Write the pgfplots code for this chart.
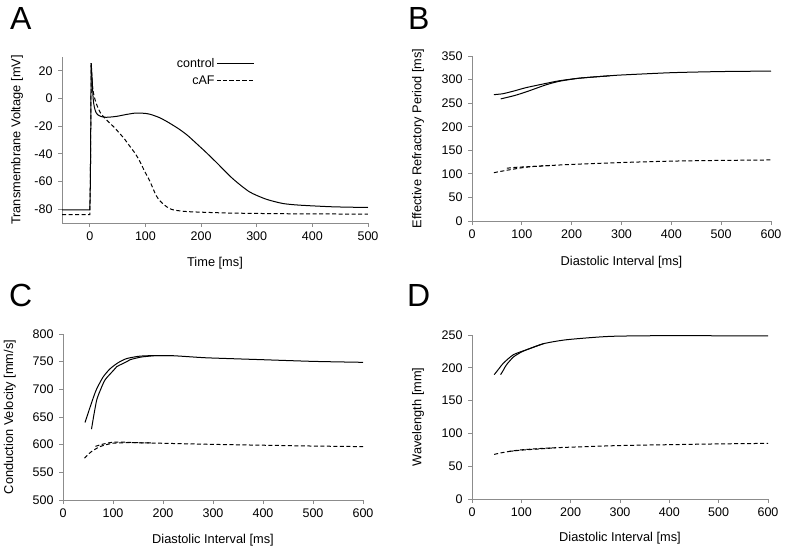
\documentclass[border=0pt]{standalone}
\usepackage{fontspec}
\setmainfont{Liberation Sans}
\usepackage{pgfplots}
\pgfplotsset{compat=1.18}

\definecolor{axisgray}{HTML}{8C8C8C}

\pgfplotsset{
  panel/.style={
    scale only axis,
    anchor=south west,
    axis x line*=bottom,
    axis y line*=left,
    axis line style={axisgray, line width=0.8pt},
    tick style={axisgray, line width=0.8pt},
    tick align=outside,
    major tick length=4pt,
    enlargelimits=false,
    clip=false,
    /pgf/number format/assume math mode=true,
    tick label style={font=\fontsize{12.5}{14}\selectfont},
    label style={font=\fontsize{12.8}{14}\selectfont},
    xlabel style={at={(axis description cs:0.5,-0.24)}, anchor=center},
    ylabel style={anchor=center, rotate=0},
    xticklabel style={yshift=-1pt},
    yticklabel style={xshift=-2pt},
    scaled ticks=false,
  },
  ctl/.style={black, line width=1pt, no markers, smooth, tension=0.4},
  caf/.style={black, line width=1pt, no markers, smooth, tension=0.4,
    dash pattern=on 4pt off 2.5pt},
}

\newcommand{\panellabel}[3]{\node[anchor=north west, inner sep=0pt, font=\fontsize{32}{34}\selectfont] at (#1pt,#2pt) {#3};}

\begin{document}
\begin{tikzpicture}
\path[use as bounding box] (0,0) rectangle (787pt,551pt);

\panellabel{10}{544}{A}
\panellabel{408}{544}{B}
\panellabel{9}{267}{C}
\panellabel{407}{267}{D}

% A: action potentials
\begin{axis}[panel,
  at={(62pt,328pt)}, width=306pt, height=166pt,
  xmin=-50, xmax=500, ymin=-90, ymax=30,
  xtick={0,100,...,500}, ytick={-80,-60,...,20},
  xlabel={Time [ms]},
  ylabel={Transmembrane Voltage [mV]},
  ylabel style={at={(axis description cs:-0.147,0.5)}},
  legend plot pos=right,
  legend cell align=right,
  legend style={draw=none, fill=none, at={(axis description cs:0.633,1.01)},
    anchor=north east, font=\fontsize{12.5}{14}\selectfont,
    row sep=2.5pt, inner sep=1pt},
  legend image code/.code={\path (0pt,0pt) -- (37pt,0pt);
    \draw[#1] (6pt,0pt) -- (37pt,0pt);},
]
\addplot[ctl] coordinates {
 (2.5,25.5) (4,15) (6,0) (8,-6) (11,-10)
 (15,-12) (20,-13) (29,-13.6) (40,-13.3) (50,-12.8) (65,-11.6) (83,-10.5)
 (100,-10.8) (110,-11.6) (125,-13.8) (140,-17) (160,-22) (176,-26.8)
 (197,-34.5) (206,-37.8) (227,-46) (257,-58) (287,-67.5) (317,-72.8)
 (347,-75.9) (377,-77.1) (437,-78.3) (500,-78.8)};
\addplot[caf] coordinates {
 (2.5,24) (4.8,9) (7,3) (10.8,-2.8) (15,-7)
 (20,-11) (25.8,-13.6) (35,-17.5) (43.8,-20.8) (52,-24.5) (61.8,-29)
 (70,-33.5) (79.9,-38.8) (88,-44) (94.9,-49.6) (101,-54.5) (107,-59)
 (113,-64.5) (119,-70) (126,-74) (134,-77) (143,-79.5) (152,-80.7)
 (170,-81.6) (188,-82) (250,-82.8) (350,-83.3) (500,-83.6)};
\addplot[black, line width=1pt, forget plot] coordinates {
 (-50,-80.5) (0,-80.5) (1,-60) (2.5,25.5)};
\addplot[black, line width=1pt, forget plot, dash pattern=on 4pt off 2.5pt] coordinates {
 (-50,-84) (0,-84) (1,-60) (2.5,24)};
\legend{control, cAF}
\end{axis}

% B: effective refractory period
\begin{axis}[panel,
  at={(472pt,330pt)}, width=299pt, height=165pt,
  xmin=0, xmax=600, ymin=0, ymax=350,
  xtick={0,100,...,600}, ytick={0,50,...,350},
  xlabel={Diastolic Interval [ms]},
  ylabel={Effective Refractory Period [ms]},
  xlabel style={at={(axis description cs:0.5,-0.248)}},
  ylabel style={at={(axis description cs:-0.18,0.5)}},
]
\addplot[ctl] coordinates {
 (44,268) (62,270) (85,276) (109,283) (149,292) (176,297.6) (216,303)
 (276,308) (300,309.7) (400,314.6) (500,317) (600,318)};
\addplot[ctl] coordinates {
 (57.6,259) (85,266) (109,274) (149,289) (176,296.5) (216,303) (276,308)};
\addplot[caf] coordinates {
 (44,102.5) (72,108) (116,115) (199,120) (300,124) (400,127) (500,128.5) (600,129.5)};
\addplot[caf] coordinates {
 (70,112) (90,114) (120,115.5) (160,118)};
\end{axis}

% C: conduction velocity
\begin{axis}[panel,
  at={(63pt,51pt)}, width=300pt, height=166pt,
  xmin=0, xmax=600, ymin=500, ymax=800,
  xtick={0,100,...,600}, ytick={500,550,...,800},
  xlabel={Diastolic Interval [ms]},
  ylabel={Conduction Velocity [mm/s]},
  ylabel style={at={(axis description cs:-0.177,0.5)}},
]
\addplot[ctl] coordinates {
 (44,640) (55,670) (66,698) (80,722) (94,737) (110,748) (127,755.5)
 (154,760) (187,761) (221,760.7) (274,757.6) (301,756.5) (401,753.5)
 (501,750.5) (600,748.8)};
\addplot[ctl] coordinates {
 (57,628) (62,655) (67.5,681) (74,697) (84,717) (100.7,734) (107.5,741)
 (127.5,750) (134,753.5) (154,758) (167.6,759.5) (187,761) (221,760.7)};
\addplot[caf] coordinates {
 (43,575.5) (50,582) (57,587.5) (74,596.5) (100,602.6) (140,603.6)
 (200,602.5) (301,600.5) (400,599) (500,597.5) (600,596.5)};
\addplot[caf] coordinates {
 (65,597) (80,601) (100,604.5) (120,604.5) (140,603.8) (180,603)};
\end{axis}

% D: wavelength
\begin{axis}[panel,
  at={(472pt,52pt)}, width=296pt, height=164pt,
  xmin=0, xmax=600, ymin=0, ymax=250,
  xtick={0,100,...,600}, ytick={0,50,...,250},
  xlabel={Diastolic Interval [ms]},
  ylabel={Wavelength [mm]},
  xlabel style={at={(axis description cs:0.5,-0.237)}},
  ylabel style={at={(axis description cs:-0.182,0.5)}},
]
\addplot[ctl] coordinates {
 (45,189.5) (55,199) (63.5,207) (84,220) (111,227.6) (144.6,236.7)
 (192,242.8) (280,247.9) (400,249) (600,248.5)};
\addplot[ctl] coordinates {
 (58,189.5) (64,197) (70,204.7) (84,216.5) (100,224) (111,227.6) (144.6,236.7)};
\addplot[caf] coordinates {
 (45,68) (60,70.5) (80,73) (101,75) (150,77.5) (199,79) (300,81.5)
 (400,82.8) (500,84) (600,84.8)};
\addplot[caf] coordinates {
 (75,72.5) (100,74.5) (130,76) (170,78)};
\end{axis}
\end{tikzpicture}
\end{document}
